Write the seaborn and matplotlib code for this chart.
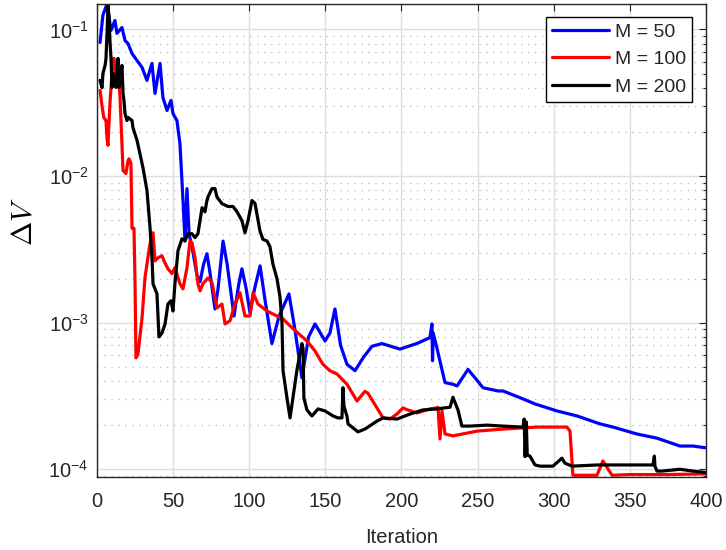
import matplotlib
matplotlib.use("Agg")
import matplotlib.pyplot as plt
import pandas as pd
import seaborn as sns
from matplotlib.ticker import LogLocator, NullFormatter, NullLocator

# ---- data: convergence of Delta V per iteration for three sample sizes ----
series_labels = ["M = 50", "M = 100", "M = 200"]
series_colors = ["#0000ff", "#ff0000", "#000000"]

iter_m50 = [2.0, 3.9, 6.6, 9.2, 11.8, 13.1, 16.4, 18.4, 20.4, 23.0, 26.3, 29.6, 32.8, 36.1,
            38.1, 41.4, 43.3, 46.0, 48.6, 49.9, 52.5, 54.5, 56.5, 57.8, 59.1, 60.5, 62.4,
            65.7, 67.7, 70.0, 72.2, 74.2, 77.5, 79.5, 82.8, 85.5, 90.0, 93.0, 95.2, 98.0,
            100.5, 103.5, 107.1, 110.5, 114.9, 119.5, 126.1, 130.0, 134.6, 139.0, 143.2,
            149.8, 153.0, 156.3, 160.0, 164.2, 169.5, 175.0, 180.6, 187.2, 199.0, 210.0,
            218.7, 220.0, 220.4, 220.8, 223.3, 228.6, 233.8, 236.5, 243.7, 250.0, 253.5,
            263.4, 266.7, 279.8, 287.7, 302.1, 315.3, 330.4, 338.9, 354.7, 367.8, 382.9,
            391.5, 400.0]
dv_m50 = [0.0815, 0.125, 0.150, 0.0985, 0.115, 0.094, 0.103, 0.084, 0.080, 0.0685, 0.0614,
          0.055, 0.0449, 0.0586, 0.0366, 0.0586, 0.0343, 0.028, 0.0328, 0.0267, 0.0239,
          0.0166, 0.0068, 0.0036, 0.0082, 0.0040, 0.0033, 0.0021, 0.0019, 0.0025, 0.00295,
          0.0022, 0.00124, 0.0017, 0.0036, 0.0025, 0.00111, 0.0018, 0.00233, 0.0017, 0.00117,
          0.0017, 0.00244, 0.0014, 0.00072, 0.0011, 0.00157, 0.0009, 0.00042, 0.0008, 0.00098,
          0.00075, 0.00085, 0.00124, 0.0007, 0.00052, 0.00047, 0.00058, 0.00069, 0.00072,
          0.00066, 0.00072, 0.00079, 0.00098, 0.00055, 0.00085, 0.00067, 0.00039, 0.00038,
          0.00037, 0.00048, 0.0004, 0.00036, 0.000342, 0.000342, 0.000302, 0.000279, 0.00025,
          0.000231, 0.000204, 0.000194, 0.000174, 0.000163, 0.000144, 0.000144, 0.00014]

iter_m100 = [2.0, 3.3, 4.5, 5.9, 6.6, 7.2, 8.5, 10.5, 11.2, 13.1, 14.4, 15.1, 16.4, 17.1,
             19.0, 20.4, 21.0, 22.3, 23.0, 24.3, 25.0, 25.6, 26.9, 29.6, 31.5, 34.8, 36.8,
             38.1, 40.1, 42.7, 44.0, 46.6, 49.3, 51.2, 54.5, 56.5, 59.1, 61.1, 62.4, 64.4,
             66.3, 67.7, 69.6, 72.9, 75.5, 78.8, 82.1, 84.1, 87.4, 90.6, 93.9, 97.2, 100.5,
             102.5, 105.7, 111.7, 118.2, 122.2, 126.8, 132.0, 137.9, 143.2, 148.4, 153.0,
             157.6, 164.2, 170.8, 176.0, 178.0, 183.9, 187.9, 192.4, 197.0, 201.0, 203.6,
             210.2, 218.7, 223.3, 224.0, 225.3, 226.6, 228.6, 233.8, 249.6, 266.7, 277.8,
             289.0, 308.7, 310.7, 312.6, 328.4, 332.3, 338.3, 350.1, 374.4, 400.0]
dv_m100 = [0.0383, 0.030, 0.025, 0.0239, 0.018, 0.0162, 0.0313, 0.0634, 0.0634, 0.0428,
           0.0435, 0.035, 0.0166, 0.0109, 0.0104, 0.0127, 0.0131, 0.0122, 0.0044, 0.0044,
           0.00184, 0.000575, 0.00061, 0.00108, 0.00202, 0.00345, 0.0041, 0.00264, 0.00277,
           0.00286, 0.00264, 0.00233, 0.00216, 0.00237, 0.00184, 0.0017, 0.00237, 0.00362,
           0.0035, 0.00277, 0.00184, 0.00165, 0.00184, 0.00202, 0.00188, 0.00126, 0.00134,
           0.00098, 0.00103, 0.00134, 0.0016, 0.00111, 0.00111, 0.0016, 0.00134, 0.0012,
           0.00111, 0.00106, 0.00095, 0.00085, 0.00075, 0.00064, 0.00052, 0.00047, 0.000447,
           0.00038, 0.000292, 0.00034, 0.00033, 0.000262, 0.000224, 0.00022, 0.000238,
           0.000262, 0.000255, 0.000242, 0.000258, 0.000262, 0.000265, 0.000161, 0.00025,
           0.000174, 0.000169, 0.000182, 0.000188, 0.000191, 0.000194, 0.000194, 0.000182,
           0.000091, 0.000091, 0.000114, 0.000091, 0.000092, 0.000092, 0.000093]

iter_m200 = [2.0, 3.3, 3.9, 5.3, 5.9, 6.6, 7.2, 7.9, 8.5, 9.2, 9.9, 10.5, 11.2, 12.5, 13.8,
             14.4, 15.1, 16.4, 17.1, 17.7, 18.4, 19.7, 20.4, 23.0, 23.6, 26.3, 28.2, 30.2,
             32.8, 34.8, 36.1, 36.8, 39.4, 40.1, 40.7, 42.7, 44.7, 46.6, 48.6, 49.9, 51.2,
             53.2, 55.8, 57.8, 59.8, 62.4, 64.4, 66.3, 69.0, 70.9, 72.2, 72.9, 75.5, 77.5,
             78.8, 82.1, 86.0, 89.3, 92.0, 95.2, 97.2, 99.2, 101.8, 103.8, 107.1, 109.0,
             111.7, 113.6, 115.6, 118.2, 120.2, 121.5, 122.2, 124.8, 126.8, 128.7, 131.4,
             134.6, 135.3, 135.9, 137.9, 141.2, 145.2, 149.8, 155.0, 158.3, 160.9, 161.6,
             162.2, 164.2, 164.9, 171.4, 176.0, 183.9, 187.9, 197.0, 205.6, 214.1, 223.3,
             231.9, 233.8, 237.1, 239.7, 245.0, 256.2, 266.7, 279.8, 280.6, 281.2, 282.0,
             282.6, 284.4, 287.7, 291.0, 299.5, 305.4, 307.4, 312.0, 328.4, 345.5, 365.2,
             366.1, 366.5, 367.8, 371.1, 382.9, 391.5, 400.0]
dv_m200 = [0.0449, 0.040, 0.050, 0.0568, 0.063, 0.094, 0.146, 0.121, 0.084, 0.0634, 0.0402,
           0.050, 0.0449, 0.0402, 0.0634, 0.0402, 0.0449, 0.0568, 0.0366, 0.0328, 0.0267,
           0.0239, 0.0251, 0.0239, 0.0214, 0.0175, 0.0142, 0.0114, 0.0080, 0.0045, 0.0028,
           0.00184, 0.00157, 0.0011, 0.0008, 0.00085, 0.00098, 0.00134, 0.00141, 0.0012,
           0.00184, 0.00309, 0.00373, 0.00362, 0.00404, 0.00404, 0.0038, 0.00404, 0.00608,
           0.0057, 0.00679, 0.0072, 0.0082, 0.0082, 0.0072, 0.00648, 0.0062, 0.0062, 0.0057,
           0.00496, 0.0041, 0.00496, 0.0068, 0.0065, 0.0042, 0.0037, 0.0036, 0.0033, 0.0025,
           0.002, 0.0015, 0.001, 0.00047, 0.000306, 0.000224, 0.000306, 0.00048, 0.00072,
           0.00067, 0.000306, 0.000254, 0.000231, 0.000258, 0.00025, 0.000231, 0.000224,
           0.000224, 0.00036, 0.00027, 0.00023, 0.000204, 0.00018, 0.000188, 0.000213,
           0.000224, 0.00022, 0.000238, 0.000254, 0.000258, 0.000265, 0.00031, 0.000254,
           0.000197, 0.000197, 0.0002, 0.000197, 0.000194, 0.00022, 0.000122, 0.00021,
           0.000125, 0.000123, 0.000107, 0.000105, 0.000105, 0.000119, 0.00011, 0.000105,
           0.000107, 0.000107, 0.000107, 0.000123, 0.000105, 0.0000972, 0.0000972, 0.0001,
           0.0000972, 0.000095]

x_ticks = [0, 50, 100, 150, 200, 250, 300, 350, 400]

# ---- long-form table for seaborn ----
frames = []
for label, xs, ys in zip(series_labels,
                         [iter_m50, iter_m100, iter_m200],
                         [dv_m50, dv_m100, dv_m200]):
    frames.append(pd.DataFrame({"Iteration": xs, "dV": ys, "series": label}))
df = pd.concat(frames, ignore_index=True)

# ---- styling ----
sns.set_style("white")
plt.rcParams["font.family"] = ["Liberation Sans", "DejaVu Sans"]
plt.rcParams["axes.unicode_minus"] = False

ink = "#262626"
fig = plt.figure(figsize=(7.26, 5.5), dpi=100)
ax = fig.add_axes([0.1336, 0.1333, 0.8388, 0.8594])

sns.lineplot(data=df, x="Iteration", y="dV", hue="series",
             hue_order=series_labels, palette=dict(zip(series_labels, series_colors)),
             estimator=None, sort=False, linewidth=2.3, ax=ax)

ax.set_yscale("log")
ax.set_xlim(0, 400)
ax.set_ylim(8.9e-5, 0.149)
ax.set_xticks(x_ticks)
ax.xaxis.set_minor_locator(NullLocator())
ax.yaxis.set_major_locator(LogLocator(base=10))
ax.yaxis.set_minor_locator(LogLocator(base=10, subs=range(2, 10)))
ax.yaxis.set_minor_formatter(NullFormatter())

ax.set_axisbelow(True)
ax.grid(which="major", axis="both", color="#dedede", linewidth=1.0, linestyle="-")
ax.grid(which="minor", axis="y", color="#c2c2c2", linewidth=1.0, linestyle=(0, (1, 4)))

for sp in ax.spines.values():
    sp.set_color(ink)
    sp.set_linewidth(1.0)

ax.tick_params(which="both", direction="in", top=True, right=True, color=ink,
               labelcolor=ink, labelsize=14.5, width=0.8)
ax.tick_params(which="major", length=5)
ax.tick_params(which="minor", length=2.5)
ax.tick_params(axis="x", pad=11)
ax.tick_params(axis="y", pad=6)

ax.set_xlabel("Iteration", fontsize=14.5, color=ink, labelpad=12)
ax.set_ylabel(r"$\Delta V$", fontsize=21, math_fontfamily="cm", color="black")
ax.yaxis.set_label_coords(-0.0985, 0.54)

handles, labels = ax.get_legend_handles_labels()
leg = ax.legend(handles, labels, loc="upper right", bbox_to_anchor=(0.977, 0.9725),
                borderaxespad=0, fontsize=14, frameon=True, fancybox=False,
                edgecolor="black", framealpha=1, handlelength=2.9, handletextpad=0.3,
                labelspacing=0.5, borderpad=0.32)
leg.get_frame().set_linewidth(1.0)
for h in leg.get_lines():
    h.set_linewidth(2.3)

fig.savefig("out.png", dpi=100)
